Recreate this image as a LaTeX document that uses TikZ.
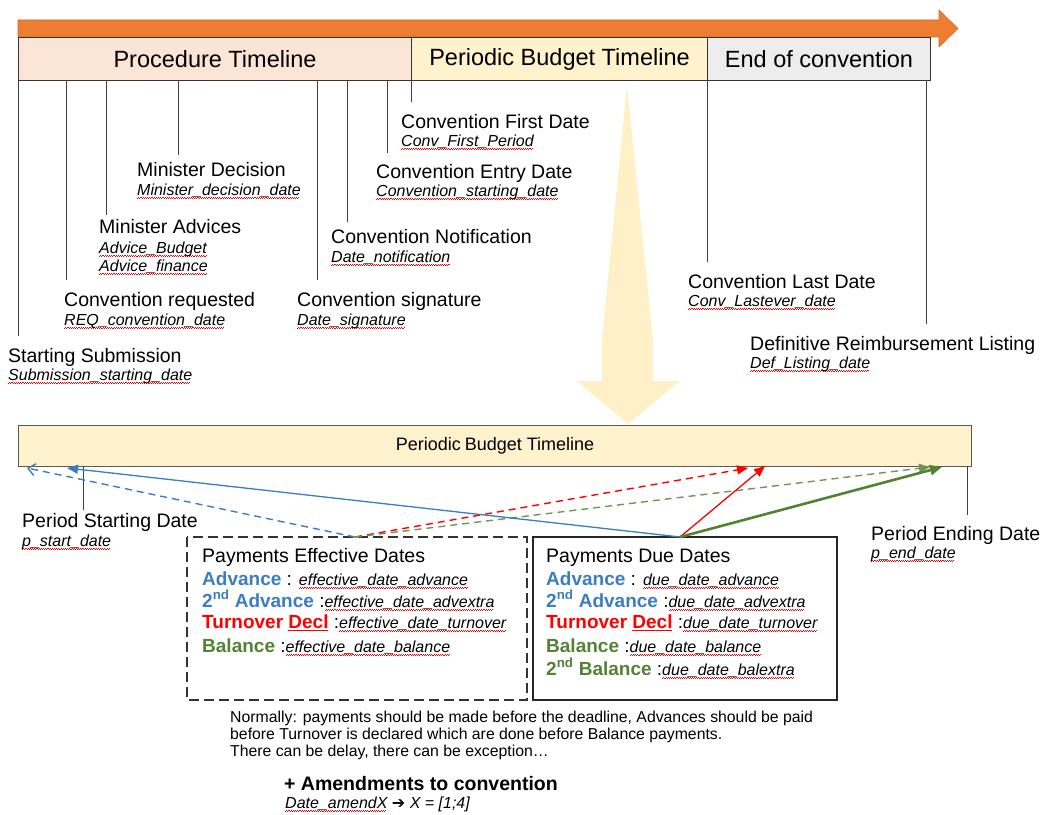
\documentclass[tikz,border=0pt]{standalone}
\usepackage{fontspec}
\setmainfont{Liberation Sans}
\newfontfamily\dejavu{DejaVu Sans}
\usetikzlibrary{arrows.meta}
\definecolor{orng}{HTML}{ED7D31}
\definecolor{peach}{HTML}{FBE5D6}
\definecolor{ylw}{HTML}{FFF2CC}
\definecolor{lgray}{HTML}{EDEDED}
\definecolor{bblue}{HTML}{3B7DC4}
\definecolor{grn}{HTML}{548235}
\definecolor{redc}{HTML}{FF0000}
\definecolor{bigarrow}{HTML}{FFF0C8}
\newcommand\sq[1]{\setbox0\hbox{#1}\rlap{\leaders\hbox{\textcolor{redc}{\rule[-3.4pt]{1.1pt}{0.6pt}\rule[-2.6pt]{1.1pt}{0.6pt}}}\hskip\wd0}\box0\relax}
\newcommand\ru[1]{\setbox0\hbox{#1}\rlap{\leaders\hbox{\textcolor{redc}{\rule[-2.6pt]{1pt}{1pt}}}\hskip\wd0}\box0\relax}
\newcommand\vr[1]{{\fontsize{16bp}{18bp}\selectfont\itshape\sq{#1}}}
\begin{document}
\begin{tikzpicture}[x=1bp,y=-1bp,
  lbl/.style={anchor=base west,inner sep=0,font=\fontsize{19.5bp}{22bp}\selectfont},
  itl/.style={anchor=base west,inner sep=0,font=\fontsize{16bp}{18bp}\selectfont\itshape},
  rowb/.style={anchor=base west,inner sep=0,font=\fontsize{19bp}{22bp}\selectfont},
  note/.style={anchor=base west,inner sep=0,font=\fontsize{15.8bp}{17bp}\selectfont},
  tick/.style={draw=black!75,line width=1bp},
  hdr/.style={draw=black!80,line width=1bp,anchor=north west,inner sep=0,minimum height=43bp,font=\fontsize{23.5bp}{26bp}\selectfont},
  arr/.style={line width=1.3bp,-{Triangle[length=11bp,width=9bp]}},
  darr/.style={line width=1.4bp,dash pattern=on 7bp off 5bp,-{Triangle[length=11bp,width=9bp]}}
]
\useasboundingbox (0,0) rectangle (1044,815);

% big yellow arrow
\fill[bigarrow] (627,85) -- (653,340) -- (653,381) -- (680,381) -- (628,424) -- (577,381) -- (602,381) -- (602,340) -- cycle;

% orange timeline arrow
\filldraw[fill=orng,draw=orng!85!black,line width=0.6bp] (18,20) -- (939,20) -- (939,10) -- (958,28.5) -- (939,47) -- (939,37) -- (18,37) -- cycle;

% header boxes
\node[hdr,fill=peach,minimum width=393bp] (proc) at (18,37) {Procedure Timeline};
\node[hdr,fill=ylw,minimum width=296bp] (pbud) at (411,37) {Periodic Budget Timeline};
\node[hdr,fill=lgray,minimum width=223bp] (endc) at (707,37) {End of convention};

% ticks
\draw[tick] (18,80) -- (18,336);
\draw[tick] (66,80) -- (66,280);
\draw[tick] (106,80) -- (106,215);
\draw[tick] (178,80) -- (178,155);
\draw[tick] (317,80) -- (317,280);
\draw[tick] (347,80) -- (347,222);
\draw[tick] (387,80) -- (387,153);
\draw[tick] (411,80) -- (411,102);
\draw[tick] (707,80) -- (707,262);
\draw[tick] (926,80) -- (926,324);

% labels
\node[lbl] (l1) at (401,128) {Convention First Date};
\node[itl] (i1) at (401,146) {\sq{Conv\_First\_Period}};
\node[lbl] (l2) at (137,176) {Minister Decision};
\node[itl] (i2) at (137,195) {\sq{Minister\_decision\_date}};
\node[lbl] (l3) at (376,178) {Convention Entry Date};
\node[itl] (i3) at (376,196) {\sq{Convention\_starting\_date}};
\node[lbl] (l4) at (99,233) {Minister Advices};
\node[itl] (i4a) at (99,253) {\sq{Advice\_Budget}};
\node[itl] (i4b) at (99,271) {\sq{Advice\_finance}};
\node[lbl] (l5) at (331,243) {Convention Notification};
\node[itl] (i5) at (331,262) {\sq{Date\_notification}};
\node[lbl] (l6) at (688,288) {Convention Last Date};
\node[itl] (i6) at (688,306) {\sq{Conv\_Lastever\_date}};
\node[lbl] (l7) at (64,306) {Convention requested};
\node[itl] (i7) at (64,325) {\sq{REQ\_convention\_date}};
\node[lbl] (l8) at (297,306) {Convention signature};
\node[itl] (i8) at (297,325) {\sq{Date\_signature}};
\node[lbl] (l9) at (750,350) {Definitive Reimbursement Listing};
\node[itl] (i9) at (750,368) {\sq{Def\_Listing\_date}};
\node[lbl] (l10) at (8,362) {Starting Submission};
\node[itl] (i10) at (8,380) {\sq{Submission\_starting\_date}};

% lower bar
\node[draw=black!65,line width=1bp,fill=ylw,anchor=north west,inner sep=0,minimum width=953bp,minimum height=41bp,font=\fontsize{18bp}{20bp}\selectfont] (pbt) at (18,425) {Periodic\kern-1pt\ Budget Timeline};
\draw[tick] (83,466) -- (83,510);
\draw[tick] (967,466) -- (967,515);
\node[lbl] (ps) at (22,527) {Period Starting Date};
\node[itl] (psi) at (22,546) {\sq{p\_start\_date}};
\node[lbl] (pe) at (871,540) {Period Ending Date};
\node[itl] (pei) at (871,558) {\sq{p\_end\_date}};

% boxes
\draw[black!80,line width=1.3bp,dash pattern=on 10bp off 5bp] (187,537) rectangle (527,700);
\draw[black!85,line width=1.3bp] (533,537) rectangle (837,700);

\node[lbl] (eh) at (202,562) {Payments Effective Dates};
\node[rowb] (e1) at (202,585) {\textbf{\color{bblue}Advance} : \vr{effective\_date\_advance}};
\node[rowb] (e2) at (202,607) {\textbf{\color{bblue}2\textsuperscript{nd} Advance} :\vr{effective\_date\_advextra}};
\node[rowb] (e3) at (202,628) {\textbf{\color{redc}Turnover \ru{Decl}} :\vr{effective\_date\_turnover}};
\node[rowb] (e4) at (202,652) {\textbf{\color{grn}Balance} :\vr{effective\_date\_balance}};

\node[lbl] (dh) at (546,562) {Payments Due Dates};
\node[rowb] (d1) at (546,585) {\textbf{\color{bblue}Advance} : \vr{due\_date\_advance}};
\node[rowb] (d2) at (546,607) {\textbf{\color{bblue}2\textsuperscript{nd} Advance} :\vr{due\_date\_advextra}};
\node[rowb] (d3) at (546,628) {\textbf{\color{redc}Turnover \ru{Decl}} :\vr{due\_date\_turnover}};
\node[rowb] (d4) at (546,652) {\textbf{\color{grn}Balance} :\vr{due\_date\_balance}};
\node[rowb] (d5) at (546,675) {\textbf{\color{grn}2\textsuperscript{nd} Balance} :\vr{due\_date\_balextra}};

% arrow end points
\coordinate (eo) at (355,537);
\coordinate (do) at (680,537);
\coordinate (tb1) at (27,468);
\coordinate (tb2) at (67,468);
\coordinate (tr1) at (748,468);
\coordinate (tr2) at (765,466);
\coordinate (tg1) at (930,467);
\coordinate (tg2) at (942,467);

\draw[bblue,line width=1.4bp,dash pattern=on 7bp off 5bp,-{Straight Barb[length=7bp,width=12bp]}] (eo) -- (tb1);
\draw[redc,darr] (eo) -- (tr1);
\draw[grn!85!white,darr] (eo) -- (tg1);
\draw[bblue,arr] (do) -- (tb2);
\draw[redc,arr] (do) -- (tr2);
\draw[grn,line width=2.6bp,-{Triangle[length=12bp,width=10bp]}] (do) -- (tg2);

% notes
\node[note] (n1) at (230,722) {Normally: payments should be made before the deadline, Advances should be paid};
\node[note] (n2) at (230,739) {before Turnover is declared which are done before Balance payments.};
\node[note] (n3) at (230,756) {There can be delay, there can be exception\dots};
\node[anchor=base west,inner sep=0,font=\fontsize{19.5bp}{22bp}\selectfont\bfseries] (am) at (284,790) {+ Amendments to convention};
\node[itl] (ami) at (285,808) {\sq{Date\_amendX} {\dejavu\upshape ➔} X = [1;4]};
\end{tikzpicture}
\end{document}
